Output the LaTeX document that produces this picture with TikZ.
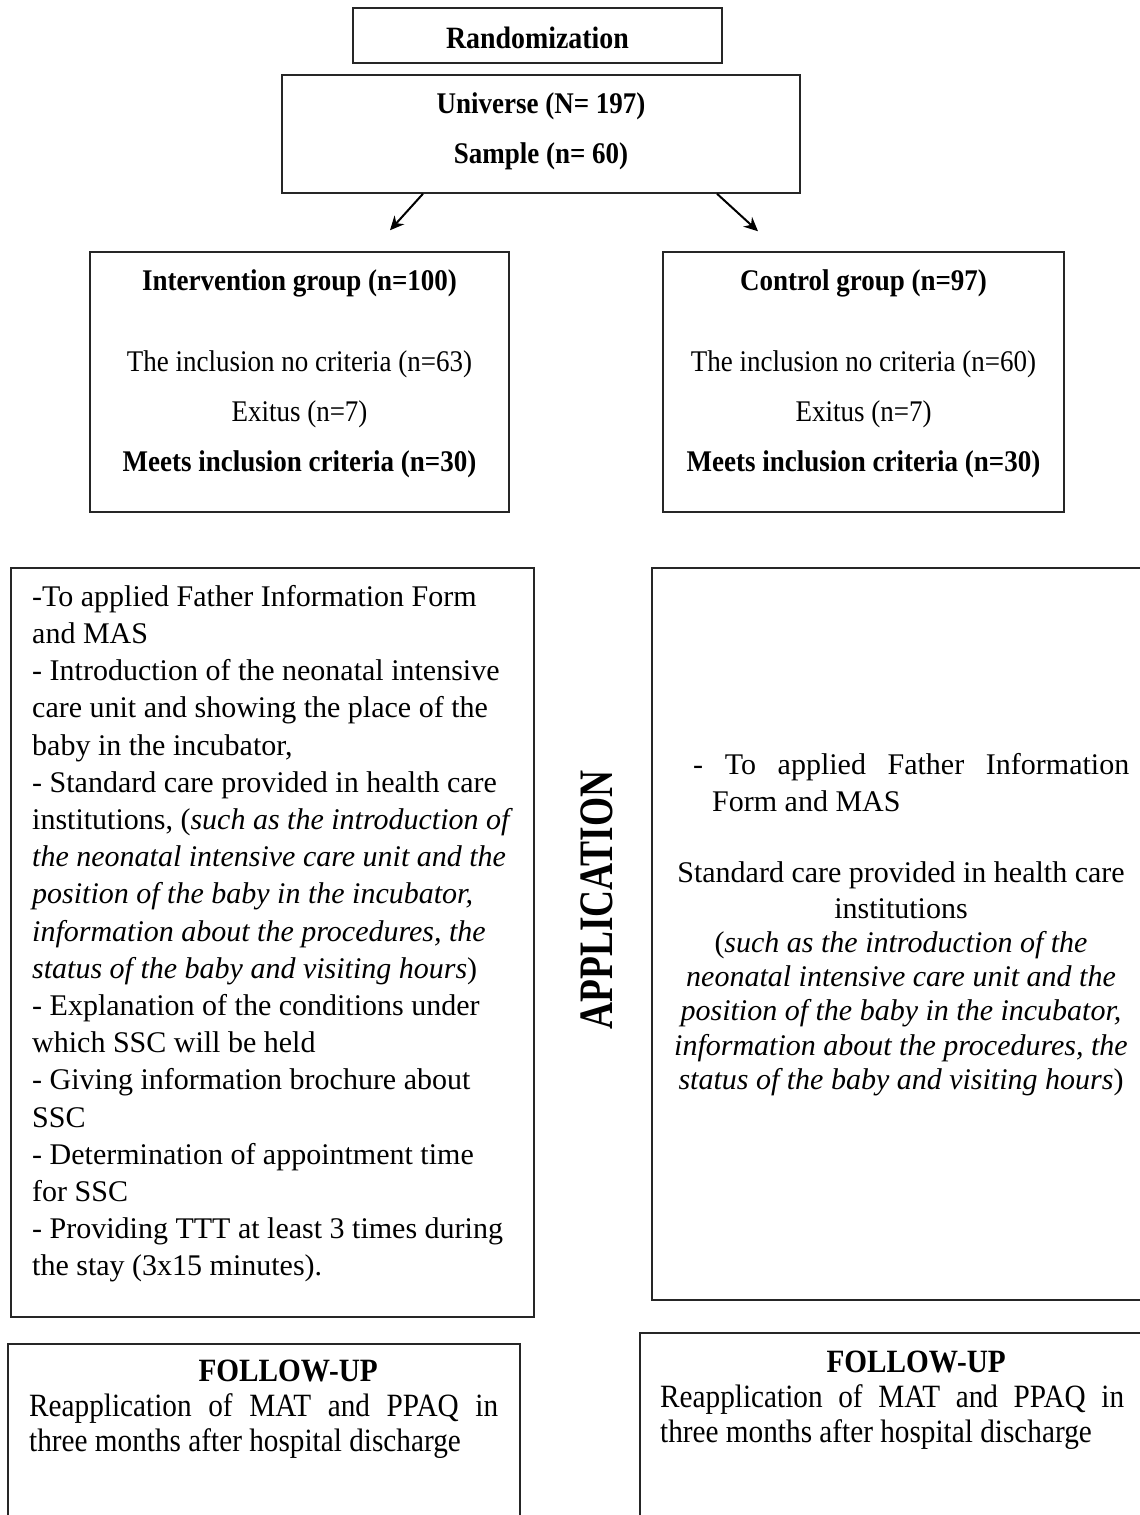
\documentclass[tikz,border=0pt]{standalone}
\usepackage{fontspec}
\setmainfont{Liberation Serif}
\newfontfamily\narrowfont[FakeStretch=0.9]{Liberation Serif}
\newfontfamily\tallfont[FakeStretch=0.78]{Liberation Serif}
\usepackage{tikz}
\usetikzlibrary{arrows.meta,calc}
\tikzstyle{box}=[rectangle,draw=black!85,line width=1.5pt,inner sep=0pt]
\tikzstyle{txt}=[inner sep=0pt,align=center]
\tikzstyle{link}=[-{Stealth[length=14pt,width=13pt]},line width=2pt]

\begin{document}
\begin{tikzpicture}[x=1pt,y=-1pt]
        \useasboundingbox (0,0) rectangle (1140,1515);
        \clip (0,0) rectangle (1140,1515);

        % boxes
        \node at (537.5,35.5) [box,minimum width=369pt,minimum height=55pt]  (rand) {};
        \node at (541,134)    [box,minimum width=518pt,minimum height=118pt] (univ) {};
        \node at (299.5,382)  [box,minimum width=419pt,minimum height=260pt] (inter) {};
        \node at (863.5,382)  [box,minimum width=401pt,minimum height=260pt] (ctrl) {};
        \node at (272.5,942.5) [box,minimum width=523pt,minimum height=749pt] (appl) {};
        \node at (906,934)    [box,minimum width=508pt,minimum height=732pt] (appr) {};
        \node at (264,1442)   [box,minimum width=512pt,minimum height=196pt] (fupl) {};
        \node at (900,1436.5) [box,minimum width=520pt,minimum height=207pt] (fupr) {};

        % texts
        \node at (537.5,38) [txt,font=\narrowfont\fontsize{31}{31}\selectfont\bfseries] (randtxt) {Randomization};
        \node at (541,131)  [txt,font=\narrowfont\fontsize{30}{50}\selectfont\bfseries] (univtxt)
                {Universe (N= 197)\\ Sample (n= 60)};
        \node at (299.5,269) [txt,anchor=north,font=\narrowfont\fontsize{30}{50}\selectfont] (intertxt)
                {\textbf{Intervention group (n=100)}\\[31pt]
                The inclusion no criteria (n=63)\\
                Exitus (n=7)\\
                \textbf{Meets inclusion criteria (n=30)}};
        \node at (863.5,269) [txt,anchor=north,font=\narrowfont\fontsize{30}{50}\selectfont] (ctrltxt)
                {\textbf{Control group (n=97)}\\[31pt]
                The inclusion no criteria (n=60)\\
                Exitus (n=7)\\
                \textbf{Meets inclusion criteria (n=30)}};

        \node at (32,585) [txt,anchor=north west,align=left,font=\fontsize{30}{37.2}\selectfont] (appltxt)
                {-To applied Father Information Form\\
                and MAS\\
                - Introduction of the neonatal intensive\\
                care unit and showing the place of the\\
                baby in the incubator,\\
                - Standard care provided in health care\\
                institutions, (\textit{such as the introduction of}\\
                \textit{the neonatal intensive care unit and the}\\
                \textit{position of the baby in the incubator,}\\
                \textit{information about the procedures, the}\\
                \textit{status of the baby and visiting hours})\\
                - Explanation of the conditions under\\
                which SSC will be held\\
                - Giving information brochure about\\
                SSC\\
                - Determination of appointment time\\
                for SSC\\
                - Providing TTT at least 3 times during\\
                the stay (3x15 minutes).};

        \node at (597,900) [txt,rotate=90,font=\tallfont\fontsize{48}{48}\selectfont\bfseries] (apptxt) {APPLICATION};

        \node at (693,753) [txt,anchor=north west,align=left,font=\fontsize{30}{37}\selectfont] (apprtxt)
                {\makebox[436pt][s]{- To applied Father Information}\\
                \hspace*{19pt}Form and MAS};
        \node at (901,861) [txt,anchor=north,font=\fontsize{30}{34.3}\selectfont] (stdtxt)
                {Standard care provided in health care\\[1.7pt]
                institutions\\
                (\textit{such as the introduction of the}\\
                \textit{neonatal intensive care unit and the}\\
                \textit{position of the baby in the incubator,}\\
                \textit{information about the procedures, the}\\
                \textit{status of the baby and visiting hours})};

        \node at (29,1360) [txt,anchor=north west,align=left,font=\narrowfont\fontsize{32.5}{35}\selectfont] (fupltxt)
                {\makebox[469pt]{\hspace{49pt}\textbf{FOLLOW-UP}}\\
                \makebox[469pt][s]{Reapplication of MAT and PPAQ in}\\
                three months after hospital discharge};
        \node at (660,1351) [txt,anchor=north west,align=left,font=\narrowfont\fontsize{32.5}{35}\selectfont] (fuprtxt)
                {\makebox[464pt]{\hspace{48pt}\textbf{FOLLOW-UP}}\\
                \makebox[464pt][s]{Reapplication of MAT and PPAQ in}\\
                three months after hospital discharge};

        \draw [link] ($(univ.south)+(-118,0)$) -- ($(inter.north)+(90.5,-21)$);
        \draw [link] ($(univ.south)+(176,0)$) -- ($(ctrl.north)+(-105.5,-20)$);
      \end{tikzpicture}
\end{document}
